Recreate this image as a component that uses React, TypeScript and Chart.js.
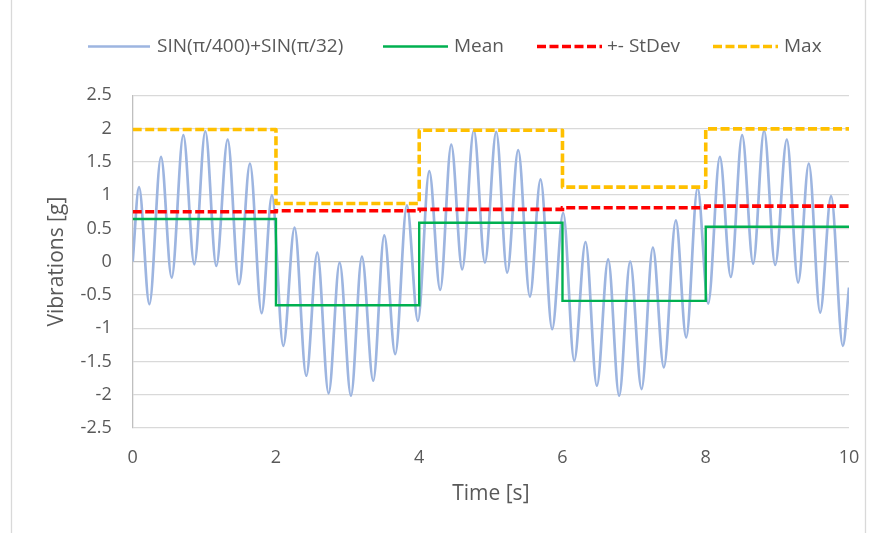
import React, { useEffect, useRef } from 'react';
import { Chart, registerables } from 'chart.js';

Chart.register(...registerables);

// Signal extrema (time in s, vibration in g)
const timeS = [
  0, 0.088, 0.233, 0.395, 0.544, 0.707, 0.86, 1.014, 1.167, 1.326, 1.484, 1.637, 1.8, 1.944,
  2.102, 2.26, 2.423, 2.577, 2.735, 2.889, 3.047, 3.2, 3.358, 3.512, 3.665, 3.828, 3.982,
  4.14, 4.293, 4.447, 4.6, 4.763, 4.917, 5.075, 5.228, 5.382, 5.545, 5.694, 5.856,
  6.01, 6.164, 6.322, 6.48, 6.638, 6.791, 6.945, 7.104, 7.262, 7.415, 7.583, 7.727, 7.886,
  8.034, 8.197, 8.35, 8.508, 8.662, 8.815, 8.969, 9.132, 9.29, 9.439, 9.597, 9.75, 9.914, 10.0,
];
const vibration = [
  0, 1.12, -0.64, 1.575, -0.24, 1.9, -0.04, 1.96, -0.065, 1.835, -0.34, 1.475, -0.775, 1.0,
  -1.265, 0.51, -1.715, 0.135, -1.98, -0.015, -2.015, 0.075, -1.79, 0.395, -1.39, 0.845, -0.89,
  1.36, -0.425, 1.76, -0.115, 1.975, -0.015, 1.95, -0.165, 1.675, -0.525, 1.235, -1.015,
  0.735, -1.49, 0.295, -1.865, 0.035, -2.015, 0.0, -1.915, 0.21, -1.59, 0.62, -1.14, 1.11,
  -0.63, 1.575, -0.23, 1.9, -0.03, 1.97, -0.05, 1.835, -0.315, 1.475, -0.765, 0.985, -1.265, -0.39,
];

const stepTimes = [0, 2, 4, 6, 8, 10];
const meanValues = [0.64, -0.655, 0.585, -0.59, 0.525];
const stdevValues = [0.75, 0.765, 0.785, 0.81, 0.835];
const maxValues = [1.985, 0.875, 1.975, 1.12, 1.995];

const xTicks = [0, 2, 4, 6, 8, 10];
const yTicks = [-2.5, -2, -1.5, -1, -0.5, 0, 0.5, 1, 1.5, 2, 2.5];
const seriesNames = ['SIN(π/400)+SIN(π/32)', 'Mean', '+- StDev', 'Max'];

const FONT = '"Open Sans", "Noto Sans", sans-serif';
const TEXT = '#595959';

const stepPoints = (vals: number[]) =>
  stepTimes.map((t, i) => ({ x: t, y: vals[Math.min(i, vals.length - 1)] }));

const legendPos = [
  { x0: 88, x1: 150, tx: 157 },
  { x0: 383, x1: 448, tx: 454 },
  { x0: 537, x1: 602, tx: 607 },
  { x0: 713, x1: 778, tx: 784 },
];

const framePlugin = {
  id: 'frame',
  beforeDraw(chart: any) {
    const { ctx, width, height } = chart;
    ctx.save();
    ctx.fillStyle = '#ffffff';
    ctx.fillRect(0, 0, width, height);
    ctx.strokeStyle = '#d9d9d9';
    ctx.lineWidth = 1.3;
    ctx.beginPath();
    ctx.moveTo(11.5, 0);
    ctx.lineTo(11.5, height);
    ctx.moveTo(865.5, 0);
    ctx.lineTo(865.5, height);
    ctx.stroke();
    ctx.restore();
  },
};

const legendPlugin = {
  id: 'customLegend',
  afterDraw(chart: any) {
    const { ctx } = chart;
    const y = 46.5;
    ctx.save();
    chart.data.datasets.forEach((ds: any, i: number) => {
      const p = legendPos[i];
      ctx.beginPath();
      ctx.strokeStyle = ds.borderColor;
      ctx.lineWidth = ds.borderWidth;
      ctx.setLineDash(ds.borderDash || []);
      ctx.moveTo(p.x0, y);
      ctx.lineTo(p.x1, y);
      ctx.stroke();
      ctx.setLineDash([]);
      ctx.fillStyle = TEXT;
      ctx.font = `19px ${FONT}`;
      ctx.textBaseline = 'middle';
      ctx.textAlign = 'left';
      ctx.fillText(ds.label, p.tx, y);
    });
    ctx.restore();
  },
};

export default function App() {
  const ref = useRef<HTMLCanvasElement>(null);

  useEffect(() => {
    if (!ref.current) return;
    const chart = new Chart(ref.current, {
      type: 'line',
      data: {
        datasets: [
          {
            label: seriesNames[0],
            data: timeS.map((t, i) => ({ x: t, y: vibration[i] })),
            borderColor: '#9db5e0',
            borderWidth: 2.7,
            pointRadius: 0,
            cubicInterpolationMode: 'monotone',
            order: 4,
          },
          {
            label: seriesNames[1],
            data: stepPoints(meanValues),
            borderColor: '#00b050',
            borderWidth: 2.4,
            pointRadius: 0,
            stepped: 'before',
            order: 3,
          },
          {
            label: seriesNames[2],
            data: stepPoints(stdevValues),
            borderColor: '#ff0000',
            borderWidth: 3.6,
            borderDash: [9, 3.5],
            pointRadius: 0,
            stepped: 'before',
            order: 2,
          },
          {
            label: seriesNames[3],
            data: stepPoints(maxValues),
            borderColor: '#ffc000',
            borderWidth: 3.6,
            borderDash: [9, 3.5],
            pointRadius: 0,
            stepped: 'before',
            borderJoinStyle: 'round',
            order: 1,
          },
        ],
      } as any,
      options: {
        animation: false,
        responsive: false,
        devicePixelRatio: 1,
        layout: { padding: { left: 44.5, right: 24, top: 95.3, bottom: 26.4 } },
        plugins: { legend: { display: false }, tooltip: { enabled: false }, title: { display: false } },
        scales: {
          x: {
            type: 'linear',
            min: 0,
            max: 10,
            afterBuildTicks: (s: any) => {
              s.ticks = xTicks.map((v) => ({ value: v }));
            },
            afterFit: (s: any) => {
              s.height = 78.6;
              s.paddingLeft = 0;
              s.paddingRight = 0;
            },
            grid: { display: false, drawTicks: false },
            border: { display: false },
            ticks: {
              padding: 19,
              color: TEXT,
              font: { family: FONT, size: 18 },
              maxRotation: 0,
              callback: (v: any) => String(v),
            },
            title: {
              display: true,
              text: 'Time [s]',
              color: TEXT,
              font: { family: FONT, size: 21 },
              padding: 0,
            },
          },
          y: {
            type: 'linear',
            min: -2.5,
            max: 2.5,
            afterBuildTicks: (s: any) => {
              s.ticks = yTicks.map((v) => ({ value: v }));
            },
            afterFit: (s: any) => {
              s.width = 132.7 - 44.5;
            },
            grid: {
              color: (c: any) => (c.tick && c.tick.value === 0 ? '#bfbfbf' : '#d9d9d9'),
              lineWidth: 1.3,
              drawTicks: false,
            },
            border: { display: true, color: '#bfbfbf', width: 1.3 },
            ticks: {
              padding: 21,
              color: TEXT,
              font: { family: FONT, size: 18 },
              callback: (v: any) => String(v),
            },
            title: {
              display: true,
              text: 'Vibrations [g]',
              color: TEXT,
              font: { family: FONT, size: 21 },
              padding: 0,
            },
          },
        },
      } as any,
      plugins: [framePlugin, legendPlugin],
    });
    return () => chart.destroy();
  }, []);

  return (
    <div style={{ position: 'absolute', left: 0, top: 0, width: 873, height: 533 }}>
      <canvas ref={ref} width={873} height={533} style={{ display: 'block', width: 873, height: 533 }} />
    </div>
  );
}
